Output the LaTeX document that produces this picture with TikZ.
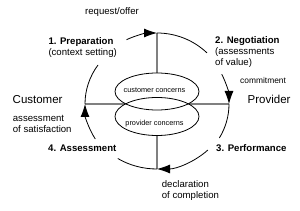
\documentclass[tikz,border=0pt]{standalone}
\usepackage{fontspec}
\setmainfont{Liberation Sans}
\usetikzlibrary{arrows.meta,calc}
\definecolor{axisgray}{RGB}{128,128,128}
\begin{document}
\begin{tikzpicture}[x=1pt,y=1pt,
  lbl/.style={font=\fontsize{9.6}{11}\selectfont, inner sep=0pt, anchor=base west},
  blbl/.style={font=\fontsize{9.6}{11}\selectfont\bfseries, inner sep=0pt, anchor=base west},
  biglbl/.style={font=\fontsize{11.5}{13}\selectfont, inner sep=0pt, anchor=base west},
  smalllbl/.style={font=\fontsize{7.3}{9}\selectfont, inner sep=0pt},
  axisline/.style={draw=axisgray, line width=1.5pt},
  cyc/.style={draw=black, line width=0.8pt},
  tipend/.style={-{Latex[length=13pt,width=9pt]}},
]
\useasboundingbox (0,0) rectangle (300,211);
% centres
\coordinate (c) at (157,107);
\coordinate (top) at (157,178);
\coordinate (bot) at (157,42);
\coordinate (lft) at (85,107);
\coordinate (rgt) at (229,107);
\coordinate (cc) at (157,119.5);
\coordinate (pc) at (157,94.5);
% axes
\draw[axisline] (top) -- (bot);
\draw[axisline] (lft) -- (rgt);
% concern ellipses
\fill[white] (cc) ellipse [x radius=42pt, y radius=18.5pt];
\fill[white] (pc) ellipse [x radius=42pt, y radius=19pt];
\draw[cyc] (cc) ellipse [x radius=42pt, y radius=18.5pt];
\draw[cyc] (pc) ellipse [x radius=42pt, y radius=19pt];
\node[smalllbl] (custc) at (154.5,121) {customer concerns};
\node[smalllbl] (provc) at (154.5,87) {provider concerns};
% cycle arcs
\draw[cyc,tipend] ($(c)+(115:72pt and 71pt)$) arc[start angle=115, end angle=90, x radius=72pt, y radius=71pt];
\draw[cyc] (top) arc[start angle=90, end angle=46, x radius=72pt, y radius=71pt];
\draw[cyc,tipend] ($(c)+(26:72pt and 68pt)$) arc[start angle=26, end angle=0, x radius=72pt, y radius=68pt];
\draw[cyc] (rgt) arc[start angle=0, end angle=-30, x radius=72pt, y radius=68pt];
\draw[cyc,tipend] ($(c)+(-45:72pt and 65pt)$) arc[start angle=-45, end angle=-90, x radius=72pt, y radius=65pt];
\draw[cyc] (bot) arc[start angle=-90, end angle=-123, x radius=72pt, y radius=65pt];
\draw[cyc,tipend] ($(c)+(211:72pt and 68pt)$) arc[start angle=211, end angle=180, x radius=72pt, y radius=68pt];
\draw[cyc] (lft) arc[start angle=180, end angle=145, x radius=72pt, y radius=68pt];
% labels
\node[lbl] (req) at (85,196.7) {request/offer};
\node[blbl] (prep) at (48.3,166) {1. Preparation};
\node[lbl] (prep2) at (48.3,155) {(context setting)};
\node[blbl] (neg) at (215,167) {2. Negotiation};
\node[lbl] (neg2) at (215,156) {(assessments};
\node[lbl] (neg3) at (215,145) {of value)};
\node[lbl, font=\fontsize{8.4}{10}\selectfont] (commit) at (240,127) {commitment};
\node[biglbl] (cust) at (12.5,107) {Customer};
\node[biglbl] (prov) at (247.5,107) {Provider};
\node[lbl] (sat1) at (12.7,89.3) {assessment};
\node[lbl] (sat2) at (12.7,78) {of satisfaction};
\node[blbl] (assess) at (48,59.3) {4. Assessment};
\node[blbl] (perf) at (216,59.3) {3. Performance};
\node[lbl] (decl1) at (161.7,23.5) {declaration};
\node[lbl] (decl2) at (161.7,12.5) {of completion};
\end{tikzpicture}
\end{document}
